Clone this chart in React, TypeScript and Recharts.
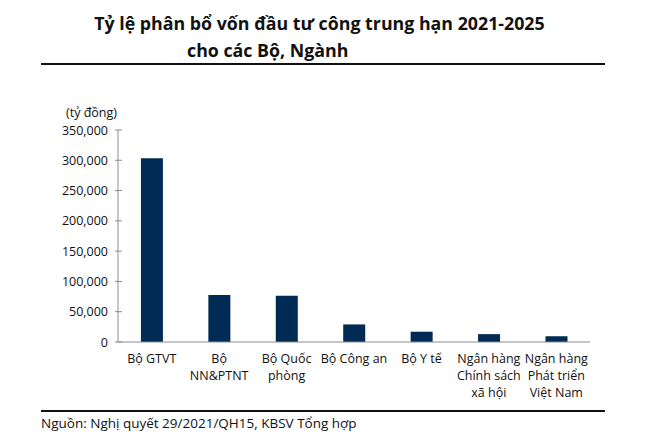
import React from "react";
import { BarChart, Bar, XAxis, YAxis } from "recharts";

const categories: string[][] = [
  ["Bộ GTVT"],
  ["Bộ", "NN&PTNT"],
  ["Bộ Quốc", "phòng"],
  ["Bộ Công an"],
  ["Bộ Y tế"],
  ["Ngân hàng", "Chính sách", "xã hội"],
  ["Ngân hàng", "Phát triển", "Việt Nam"],
];
const values: number[] = [303500, 77500, 76500, 29000, 17000, 13000, 9500];
const yTicks: number[] = [0, 50000, 100000, 150000, 200000, 250000, 300000, 350000];
const boundaryTicks: number[] = [1, 2, 3, 4, 5, 6, 7];

const title1 = "Tỷ lệ phân bổ vốn đầu tư công trung hạn 2021-2025";
const title2 = "cho các Bộ, Ngành";
const unitLabel = "(tỷ đồng)";
const source = "Nguồn: Nghị quyết 29/2021/QH15, KBSV Tổng hợp";

const data = categories.map((c, i) => ({ name: c.join("|"), idx: i, value: values[i] }));

const FONT = "'Open Sans', 'Noto Sans', sans-serif";
const AXIS = "#8c8c8c";
const BAR = "#002b55";

const fmt = (v: number) => v.toLocaleString("en-US");

const YTick = (props: any) => {
  const { x, y, payload } = props;
  return (
    <g>
      <line x1={x + 7} x2={x + 14} y1={y} y2={y} stroke={AXIS} strokeWidth={1} />
      <text x={x} y={y} dy={4.5} textAnchor="end" fontSize={12.5} fill="#111" fontFamily={FONT}>
        {fmt(payload.value)}
      </text>
    </g>
  );
};

const XTick = (props: any) => {
  const { x, y, payload } = props;
  const lines = String(payload.value).split("|");
  return (
    <g>
      {lines.map((l, i) => (
        <text key={i} x={x} y={y + 13 + i * 17} textAnchor="middle" fontSize={12.5} fill="#111" fontFamily={FONT}>
          {l}
        </text>
      ))}
    </g>
  );
};

export default function App() {
  return (
    <div style={{ position: "relative", width: 653, height: 426, background: "#fff", fontFamily: FONT }}>
      <div style={{ position: "absolute", left: 0, width: 623, top: 1, textAlign: "center", fontWeight: 700, fontSize: 17.8, color: "#111", lineHeight: "28px" }}>
        {title1}
      </div>
      <div style={{ position: "absolute", left: 179, top: 28, fontWeight: 700, fontSize: 17.8, color: "#111", lineHeight: "28px" }}>
        {title2}
      </div>
      <div style={{ position: "absolute", left: 33, top: 55, width: 564, height: 1.5, background: "#111" }} />
      <div style={{ position: "absolute", left: 58, top: 96, fontSize: 12.5, color: "#111" }}>{unitLabel}</div>
      <div style={{ position: "absolute", left: 0, top: 0 }}>
        <BarChart width={653} height={410} data={data} margin={{ top: 122, right: 71, bottom: 16, left: 0 }} barCategoryGap="34%">
          <XAxis
            dataKey="name"
            xAxisId="cat"
            axisLine={{ stroke: AXIS }}
            tickLine={false}
            interval={0}
            tick={<XTick />}
            height={60}
          />
          <XAxis
            xAxisId="bnd"
            type="number"
            domain={[0, 7]}
            ticks={boundaryTicks}
            axisLine={false}
            tickLine={{ stroke: AXIS }}
            tickSize={4}
            tick={false}
            height={0}
          />
          <YAxis
            domain={[0, 350000]}
            ticks={yTicks}
            width={110}
            axisLine={{ stroke: AXIS }}
            tickLine={false}
            tickSize={0}
            tickMargin={10}
            tick={<YTick />}
          />
          <Bar dataKey="value" xAxisId="cat" fill={BAR} isAnimationActive={false} />
        </BarChart>
      </div>
      <div style={{ position: "absolute", left: 33, top: 402, width: 564, height: 1.5, background: "#111" }} />
      <div style={{ position: "absolute", left: 33, top: 406, fontSize: 13.5, color: "#111" }}>{source}</div>
    </div>
  );
}
